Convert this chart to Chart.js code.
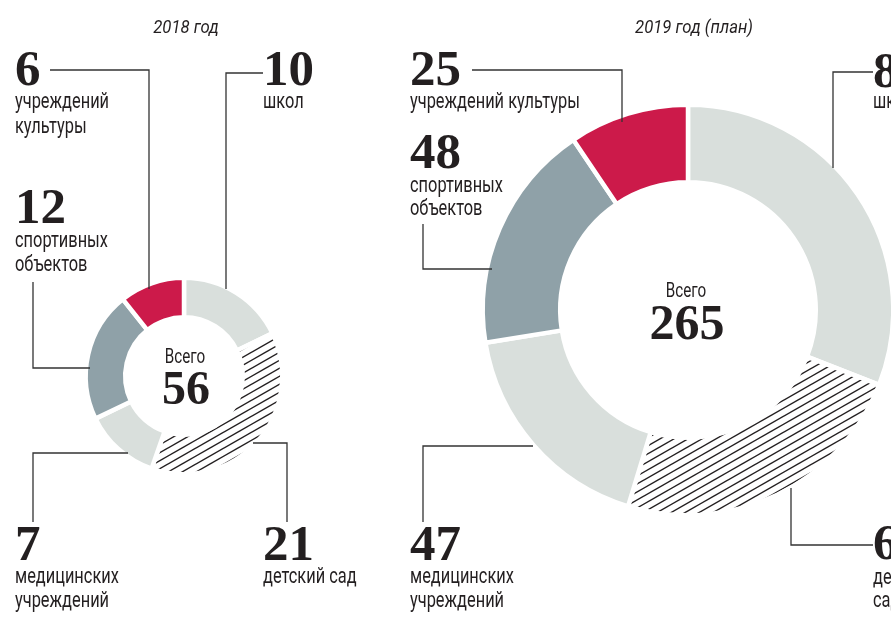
<!DOCTYPE html>
<html>
<head>
<meta charset="utf-8">
<script src="https://cdn.jsdelivr.net/npm/chart.js@4"></script>
<style>
  html, body { margin: 0; padding: 0; background: #fff; }
  #wrap { position: relative; width: 891px; height: 627px; overflow: hidden; }
  #wrap canvas, #wrap svg { position: absolute; left: 0; top: 0; }
  .num { font-family: "Liberation Serif", serif; font-weight: bold; fill: #231f20; }
  .lbl { font-family: Roboto, sans-serif; fill: #231f20; }
  .ttl { font-family: Roboto, sans-serif; font-style: italic; fill: #231f20; }
</style>
</head>
<body>
<div id="wrap">
  <canvas id="chart2018" width="891" height="627"></canvas>
  <canvas id="chart2019" width="891" height="627"></canvas>
  <svg id="notes" width="891" height="627"></svg>
</div>
<script>
// данные
var categories = ['школ', 'детский сад', 'медицинских учреждений', 'спортивных объектов', 'учреждений культуры'];
var values2018 = [10, 21, 7, 12, 6];
var values2019 = [82, 63, 47, 48, 25];
var titles = ['2018 год', '2019 год (план)'];
var totalLabel = 'Всего';

// как подписи разбиты по строкам
var lines2018 = [['школ'], ['детский сад'], ['медицинских', 'учреждений'], ['спортивных', 'объектов'], ['учреждений', 'культуры']];
var lines2019 = [['школ'], ['детский', 'сад'], ['медицинских', 'учреждений'], ['спортивных', 'объектов'], ['учреждений культуры']];

var light = '#d9dfdc';
var steel = '#8fa1a8';
var red = '#cc1a4a';
var ink = '#231f20';

// штриховка для детских садов
function hatch() {
    var w = 28, h = 16;
    var c = document.createElement('canvas');
    c.width = w; c.height = h;
    var g = c.getContext('2d');
    g.strokeStyle = ink;
    g.lineWidth = 1.4;
    for (var k = -2; k <= 2; k++) {
        g.beginPath();
        g.moveTo(-4, h + k * h / 2 + 4 * h / w);
        g.lineTo(w + 4, h + k * h / 2 - (w + 4) * h / w);
        g.stroke();
    }
    return g.createPattern(c, 'repeat');
}

var gap = 4.5;

function makeDonut(id, values, cx, cy, rOut, rIn) {
    var W = 891, H = 627;
    // центр области графика = центр кольца
    var pad = {};
    if (cx * 2 <= W) { pad.left = 0; pad.right = W - 2 * cx; } else { pad.left = 2 * cx - W; pad.right = 0; }
    if (cy * 2 <= H) { pad.top = 0; pad.bottom = H - 2 * cy; } else { pad.top = 2 * cy - H; pad.bottom = 0; }
    var radius = rOut + gap / 2;
    var inner = rIn - gap / 2;
    return new Chart(document.getElementById(id), {
        type: 'doughnut',
        data: {
            labels: categories,
            datasets: [{
                data: values,
                backgroundColor: [light, hatch(), light, steel, red],
                borderColor: '#fff',
                borderWidth: gap,
                hoverOffset: 0
            }]
        },
        options: {
            responsive: false,
            animation: false,
            events: [],
            radius: radius,
            cutout: (inner / radius * 100) + '%',
            layout: { padding: pad },
            plugins: { legend: { display: false }, tooltip: { enabled: false } }
        }
    });
}

makeDonut('chart2018', values2018, 184, 376, 96, 61);
makeDonut('chart2019', values2019, 688, 310, 203, 130);

// подписи и выноски
var notes = [
    {
        values: values2018, lines: lines2018, title: titles[0], titlePos: [186, 33],
        center: [185, 363, 404], centerSize: 48,
        place: [
            { num: [263, 85], base: [108], lead: [[263, 73], [226, 73], [226, 289]] },
            { num: [263, 560], base: [583], lead: [[253, 443], [287, 443], [287, 522]] },
            { num: [15, 560], base: [583, 607], lead: [[128, 453], [33, 453], [33, 522]] },
            { num: [15, 223], base: [247, 271], lead: [[33, 282], [33, 368], [90, 368]] },
            { num: [15, 85], base: [108, 133], lead: [[50, 70], [149, 70], [149, 289]] }
        ]
    },
    {
        values: values2019, lines: lines2019, title: titles[1], titlePos: [694, 33],
        center: [686, 297, 339], centerSize: 50,
        place: [
            { num: [873, 87], base: [108], lead: [[873, 72], [833, 72], [833, 168]] },
            { num: [873, 559], base: [584, 607], lead: [[873, 545], [791, 545], [791, 488]] },
            { num: [410, 560], base: [583, 607], lead: [[533, 446], [423, 446], [423, 522]] },
            { num: [410, 168], base: [192, 215], lead: [[423, 224], [423, 269], [492, 269]] },
            { num: [410, 85], base: [108], lead: [[472, 70], [622, 70], [622, 122]] }
        ]
    }
];

// узкий шрифт: сжимаем Roboto по горизонтали
var meas = document.createElement('canvas').getContext('2d');
function squeeze(font, s, target) {
    meas.font = font;
    return target / meas.measureText(s).width;
}
var lblSize = 21.5, ttlSize = 18, totSize = 20;
var sxLbl = squeeze(lblSize + 'px Roboto', 'учреждений культуры', 170);
var sxTtl = squeeze('italic ' + ttlSize + 'px Roboto', '2019 год (план)', 118);

var svg = document.getElementById('notes');
var NS = 'http://www.w3.org/2000/svg';
function txt(s, x, y, cls, size, anchor, sx) {
    var t = document.createElementNS(NS, 'text');
    t.setAttribute('class', cls);
    t.setAttribute('font-size', size);
    if (anchor) t.setAttribute('text-anchor', anchor);
    if (sx) {
        t.setAttribute('transform', 'translate(' + x + ',' + y + ') scale(' + sx + ',1)');
    } else {
        t.setAttribute('x', x); t.setAttribute('y', y);
    }
    t.textContent = s;
    svg.appendChild(t);
}

notes.forEach(function (n) {
    txt(n.title, n.titlePos[0], n.titlePos[1], 'ttl', ttlSize, 'middle', sxTtl);
    var total = n.values.reduce(function (a, b) { return a + b; }, 0);
    txt(totalLabel, n.center[0], n.center[1], 'lbl', totSize, 'middle', sxLbl);
    txt(String(total), n.center[0] + 1, n.center[2], 'num', n.centerSize, 'middle');
    n.place.forEach(function (p, i) {
        var pl = document.createElementNS(NS, 'polyline');
        pl.setAttribute('points', p.lead.map(function (q) { return q.join(','); }).join(' '));
        pl.setAttribute('fill', 'none');
        pl.setAttribute('stroke', '#333');
        pl.setAttribute('stroke-width', 1.3);
        svg.appendChild(pl);
        txt(String(n.values[i]), p.num[0], p.num[1], 'num', 51);
        n.lines[i].forEach(function (s, j) {
            txt(s, p.num[0], p.base[j], 'lbl', lblSize, null, sxLbl);
        });
    });
});
</script>
</body>
</html>
